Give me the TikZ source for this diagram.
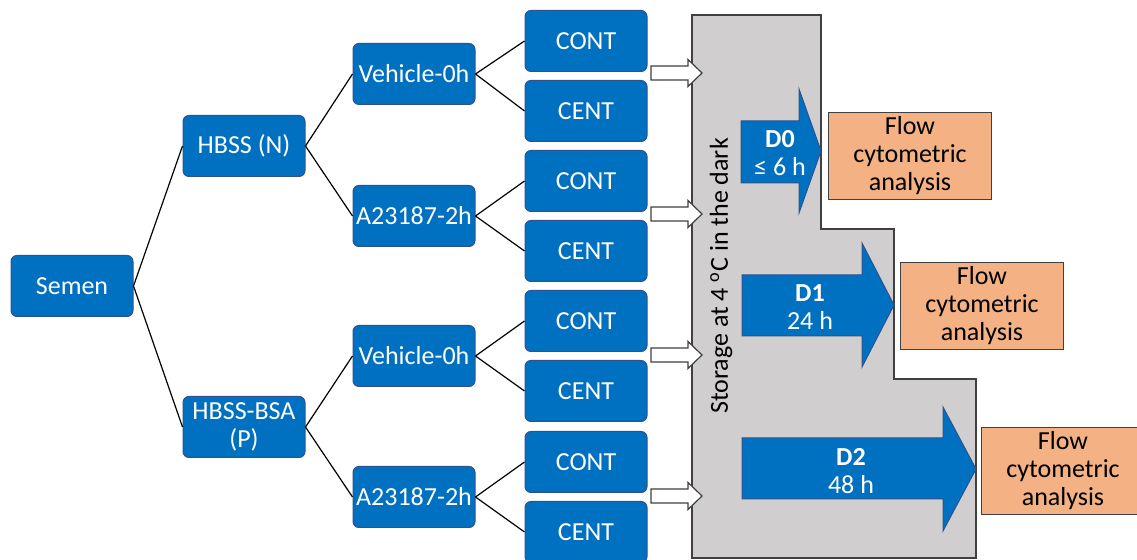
\documentclass[tikz,border=0pt]{standalone}
\usepackage{fontspec}
\setmainfont{Carlito}
\usepackage{tikz}
\usetikzlibrary{positioning}
\definecolor{boxblue}{HTML}{0070C0}
\definecolor{boxline}{HTML}{2F528F}
\definecolor{storegray}{HTML}{D0CECE}
\definecolor{flowfill}{HTML}{F4B183}
\definecolor{edgegray}{HTML}{404040}

\begin{document}
\begin{tikzpicture}[x=0.5pt, y=-0.5pt,
    bluebox/.style={fill=boxblue, draw=boxline, line width=0.5pt, rounded corners=3pt,
      text=white, align=center, minimum width=61pt, minimum height=30.5pt, inner sep=1pt,
      font=\fontsize{13}{14}\selectfont},
    flowbox/.style={fill=flowfill, draw=edgegray, line width=0.6pt, align=center,
      minimum width=81.5pt, minimum height=43.5pt, inner sep=1pt,
      font=\fontsize{13}{14}\selectfont},
    link/.style={draw=black, line width=0.6pt},
    hollow/.style={draw=edgegray, fill=white, line width=0.6pt},
    blockarrow/.style={fill=boxblue, draw=boxline, line width=0.5pt},
    arrowtext/.style={text=white, align=center, font=\fontsize{13}{14}\selectfont}]
  \useasboundingbox (0,0) rectangle (1137,560);

  % storage area
  \draw[fill=storegray, draw=edgegray, line width=0.6pt]
    (692,15) -- (821,15) -- (821,229) -- (894,229) -- (894,379)
    -- (976,379) -- (976,558) -- (692,558) -- cycle;
  \node[rotate=90, font=\fontsize{13}{14}\selectfont] (store) at (721,276)
    {Storage at 4 \textsuperscript{o}C in the dark};

  % tree
  \node[bluebox] (semen) at (72,286) {Semen};
  \node[bluebox] (hbssn) at (244,146) {HBSS (N)};
  \node[bluebox] (hbssp) at (244,427) {HBSS-BSA\\(P)};
  \node[bluebox] (veh1) at (414,74) {Vehicle-0h};
  \node[bluebox] (ion1) at (414,216) {A23187-2h};
  \node[bluebox] (veh2) at (414,356) {Vehicle-0h};
  \node[bluebox] (ion2) at (414,497) {A23187-2h};
  \foreach \i/\y in {1/41, 2/181, 3/321, 4/462} {
    \node[bluebox] (cont\i) at (586,\y) {CONT};
    \node[bluebox] (cent\i) at (586,\y+70) {CENT};
  }

  \draw[link] (semen.east) -- (hbssn.west);
  \draw[link] (semen.east) -- (hbssp.west);
  \draw[link] (hbssn.east) -- (veh1.west);
  \draw[link] (hbssn.east) -- (ion1.west);
  \draw[link] (hbssp.east) -- (veh2.west);
  \draw[link] (hbssp.east) -- (ion2.west);
  \foreach \p/\i in {veh1/1, ion1/2, veh2/3, ion2/4} {
    \draw[link] (\p.east) -- (cont\i.west);
    \draw[link] (\p.east) -- (cent\i.west);
  }

  % into storage
  \foreach \y in {73, 214, 355, 496}
    \draw[hollow] (651,\y-7) -- (688,\y-7) -- (688,\y-13.5) -- (702,\y)
      -- (688,\y+13.5) -- (688,\y+7) -- (651,\y+7) -- cycle;

  % storage times
  \draw[blockarrow] (741,121) -- (799,121) -- (799,89) -- (821,151)
    -- (799,213) -- (799,183) -- (741,183) -- cycle;
  \draw[blockarrow] (742,275) -- (862,275) -- (862,243) -- (894,305)
    -- (862,367) -- (862,336) -- (742,336) -- cycle;
  \draw[blockarrow] (742,438) -- (943,438) -- (943,407) -- (976,469)
    -- (943,531) -- (943,499) -- (742,499) -- cycle;
  \node[arrowtext] (d0) at (780,153) {\textbf{D0}\\≤ 6 h};
  \node[arrowtext] (d1) at (810,307) {\textbf{D1}\\24 h};
  \node[arrowtext] (d2) at (851,471) {\textbf{D2}\\48 h};

  % analysis
  \node[flowbox] (flow0) at (910,156) {Flow\\cytometric\\analysis};
  \node[flowbox] (flow1) at (982,306) {Flow\\cytometric\\analysis};
  \node[flowbox] (flow2) at (1063,471) {Flow\\cytometric\\analysis};
\end{tikzpicture}
\end{document}
